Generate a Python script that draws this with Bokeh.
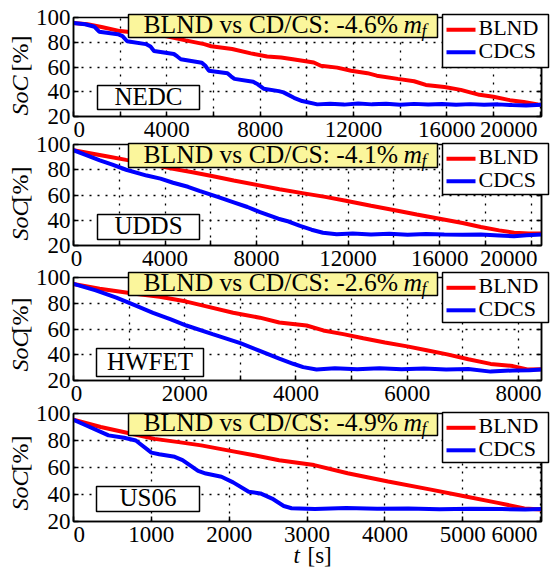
from bokeh.core.properties import value
from bokeh.embed import file_html
from bokeh.layouts import column, row
from bokeh.models import FixedTicker, LinearAxis, Range1d
from bokeh.plotting import figure
from bokeh.resources import INLINE

SERIF = "Liberation Serif"
NBSP = "\u00a0"

# ---- state of charge traces, SoC [%] over time t [s] ----
nedc_blnd_t = [0, 600, 1200, 2000, 2800, 3600, 4000, 4800, 5600, 5900, 6800, 7600, 8300,
               8900, 9400, 10300, 10600, 11300, 11900, 12600, 13000, 13900, 14600, 15100,
               15900, 16600, 17400, 18000, 18700, 19300, 19900, 20060]
nedc_blnd_soc = [95.6, 94.5, 92.3, 89.0, 87.5, 85.8, 84.8, 81.5, 78.5, 76.8, 74.5, 71.0, 68.5,
                 67.6, 66.3, 63.6, 61.0, 59.5, 57.0, 55.0, 53.0, 50.4, 48.5, 45.5,
                 43.8, 41.5, 37.5, 36.0, 33.2, 31.8, 29.8, 29.5]
nedc_cdcs_t = [0, 500, 900, 1100, 1900, 2100, 2300, 3100, 3300, 3450, 4300, 4450, 4600,
               5500, 5650, 5800, 6600, 6750, 6900, 7700, 7900, 8150, 8800, 9000, 9450,
               9800, 10450, 11000, 11600, 12200, 12800, 13400, 14000, 14600, 15200, 15800,
               16400, 17000, 17600, 18200, 18800, 19400, 20060]
nedc_cdcs_soc = [95.5, 94.5, 92.5, 88.5, 86.5, 85.0, 80.8, 78.5, 76.5, 72.9, 70.5, 68.5, 66.3,
                 63.5, 61.0, 57.0, 55.0, 52.5, 50.4, 48.0, 46.0, 42.5, 40.5, 39.5, 35.1,
                 32.5, 29.8, 30.4, 29.6, 30.5, 29.8, 30.3, 29.5, 30.2, 29.6, 30.1,
                 29.4, 30.0, 29.5, 29.8, 29.2, 28.9, 29.5]

udds_blnd_t = [0, 1500, 2300, 3500, 4350, 5200, 6100, 7000, 8000, 9000, 10000, 11000, 11900,
               13000, 14100, 15000, 16000, 17000, 17800, 18600, 19250, 19900, 20450]
udds_blnd_soc = [95.5, 90.5, 87.8, 84.0, 80.7, 78.0, 74.8, 71.5, 68.0, 64.5, 61.5, 58.5, 55.4,
                 51.5, 47.7, 44.5, 41.2, 37.8, 34.7, 32.0, 30.1, 29.5, 29.6]
udds_cdcs_t = [0, 500, 1150, 1700, 2300, 3200, 3800, 4350, 5000, 5500, 6300, 7000, 7600, 8150,
               8950, 9400, 9900, 10400, 10900, 11500, 12200, 13000, 13800, 14600, 15400,
               16200, 17000, 17800, 18600, 19250, 19800, 20450]
udds_cdcs_soc = [95.5, 92.0, 87.5, 84.0, 80.0, 75.4, 73.0, 69.7, 66.5, 63.2, 58.5, 54.2, 50.5,
                 46.4, 41.2, 39.0, 35.5, 32.5, 30.1, 29.0, 29.6, 28.8, 29.3, 28.6, 29.2,
                 28.7, 28.5, 28.8, 28.0, 27.3, 28.2, 28.8]

hwfet_blnd_t = [0, 470, 1070, 1550, 2030, 2390, 2870, 3350, 3700, 4190, 4490, 4850, 5210, 5600,
                6000, 6350, 6720, 7100, 7500, 7900, 8160, 8415]
hwfet_blnd_soc = [95.0, 91.2, 87.5, 85.0, 81.3, 77.6, 72.6, 68.8, 65.1, 62.7, 58.9, 56.0, 52.8,
                  49.5, 46.5, 43.5, 40.3, 36.5, 32.9, 31.2, 28.6, 28.8]
hwfet_cdcs_t = [0, 400, 770, 1100, 1430, 1750, 2030, 2500, 3000, 3350, 3700, 3950, 4130, 4370,
                4700, 5100, 5500, 5900, 6300, 6700, 7100, 7500, 7900, 8200, 8415]
hwfet_cdcs_soc = [95.0, 90.0, 84.3, 78.5, 72.6, 67.5, 62.7, 56.0, 49.0, 43.0, 37.0, 33.0, 30.4,
                  28.6, 29.5, 28.8, 29.6, 28.7, 29.4, 28.5, 29.0, 26.9, 27.8, 28.0, 28.5]

us06_blnd_t = [0, 350, 700, 1040, 1350, 1640, 2000, 2320, 2640, 3090, 3520, 4040, 4590, 5020,
               5450, 5790, 6010]
us06_blnd_soc = [95.4, 90.0, 85.5, 81.2, 78.8, 76.4, 72.5, 69.1, 65.4, 61.8, 55.7, 49.6, 43.6,
                 38.7, 33.8, 29.7, 28.9]
us06_cdcs_t = [0, 150, 450, 650, 800, 1000, 1100, 1300, 1400, 1600, 1700, 1900, 2050, 2250,
               2400, 2550, 2700, 2800, 3100, 3500, 3900, 4300, 4700, 5100, 5500, 5800, 6010]
us06_cdcs_soc = [95.4, 91.5, 83.8, 82.0, 80.0, 71.0, 69.8, 67.9, 65.5, 57.5, 55.5, 53.2, 49.0,
                 42.0, 40.8, 37.0, 31.5, 29.8, 29.3, 30.0, 29.4, 29.7, 29.1, 29.5, 29.2,
                 28.9, 29.2]

cycles = ["NEDC", "UDDS", "HWFET", "US06"]
cycle_end = [20060, 20450, 8415, 6010]
fuel_change = ["-4.6%", "-4.1%", "-2.6%", "-4.9%"]
blnd_series = [(nedc_blnd_t, nedc_blnd_soc), (udds_blnd_t, udds_blnd_soc),
               (hwfet_blnd_t, hwfet_blnd_soc), (us06_blnd_t, us06_blnd_soc)]
cdcs_series = [(nedc_cdcs_t, nedc_cdcs_soc), (udds_cdcs_t, udds_cdcs_soc),
               (hwfet_cdcs_t, hwfet_cdcs_soc), (us06_cdcs_t, us06_cdcs_soc)]
tick_step = [2000, 2000, 1000, 1000]
label_step = [4000, 4000, 2000, 1000]
soc_ticks = [20, 40, 60, 80, 100]
legend_names = ["BLND", "CDCS"]
series_colors = ["#ff0000", "#0000ff"]

# ---- page layout in pixels ----
W, H = 560, 574
LEFT, RIGHT = 73, 541
FRAMES = [(17, 118), (144, 247), (277, 382), (413, 521)]
INFO_BOX = [(14, 37), (143, 167), (272, 295), (413, 435)]
LEGEND_BOX = [(14, 67), (143, 194), (272, 322), (412, 462)]
NAME_BOX = [(97, 199, 85, 109), (97, 199, 214, 239), (96, 203, 348, 376), (96, 199, 486, 511)]
YLABEL_POS = [(115, 71), (240, 202), (371, 333), (510, 471)]
ZERO_PAD = [2, 1, 1, 2]
END_PAD = [4, 4, 0, 4]
# text anchors sit this fraction of the font size above the glyph baseline
BASELINE_SHIFT = 0.38

panels = []
prev_bottom = 0
for i, name in enumerate(cycles):
    top, bot = FRAMES[i]
    tmax = cycle_end[i]
    last = i == len(cycles) - 1
    fig_top = 0 if i == 0 else top - 16
    border_top = top - fig_top
    border_bottom = H - bot if last else 26
    height = border_top + (bot - top) + border_bottom

    p = figure(width=W, height=height, x_range=Range1d(0, tmax), y_range=Range1d(20, 100),
               output_backend="svg", toolbar_location=None,
               min_border_left=LEFT, min_border_right=W - RIGHT,
               min_border_top=border_top, min_border_bottom=border_bottom,
               border_fill_color=None, background_fill_color="white",
               outline_line_color="black", outline_line_width=1.5)
    p.margin = (fig_top - prev_bottom, 0, 0, 0)
    prev_bottom = fig_top + height

    # labelled ticks every label_step, unlabelled ticks in between
    major = list(range(0, tmax + 1, label_step[i]))
    minor = [t for t in range(0, tmax + 1, tick_step[i]) if t % label_step[i]]
    overrides = {0: NBSP * ZERO_PAD[i] + "0"}
    if END_PAD[i]:
        overrides[major[-1]] = str(major[-1]) + NBSP * END_PAD[i]
    xa = p.xaxis[0]
    xa.ticker = FixedTicker(ticks=major, minor_ticks=minor)
    xa.major_label_overrides = overrides
    ya = p.yaxis[0]
    ya.ticker = FixedTicker(ticks=soc_ticks)
    for ax in (xa, ya):
        ax.major_label_text_font = SERIF
        ax.major_label_text_font_size = "23px"
        ax.major_label_text_color = "black"
        ax.major_tick_in = 5
        ax.major_tick_out = 0
        ax.minor_tick_in = 5
        ax.minor_tick_out = 0
        ax.major_tick_line_color = "black"
        ax.minor_tick_line_color = "black"
        ax.major_tick_line_width = 1.5
        ax.minor_tick_line_width = 1.5
        ax.axis_line_color = "black"
        ax.axis_line_width = 1.5
    xa.major_label_standoff = 0
    ya.major_label_standoff = 3

    right_ax = LinearAxis(ticker=FixedTicker(ticks=soc_ticks), major_label_text_font_size="0px",
                          major_label_text_color=None,
                          major_tick_in=5, major_tick_out=0, major_tick_line_width=1.5,
                          minor_tick_line_color=None, axis_line_color="black",
                          axis_line_width=1.5, major_label_standoff=0)
    p.add_layout(right_ax, "right")

    for g in (p.xgrid[0], p.ygrid[0]):
        g.grid_line_color = "black"
        g.grid_line_dash = "2 6"
        g.grid_line_width = 1.3
    p.xgrid[0].minor_grid_line_color = "black"
    p.xgrid[0].minor_grid_line_dash = "2 6"
    p.xgrid[0].minor_grid_line_width = 1.3

    p.line(*blnd_series[i], line_color=series_colors[0], line_width=4)
    p.line(*cdcs_series[i], line_color=series_colors[1], line_width=4)
    panels.append(p)

# ---- transparent sheet on top: boxes, legends and axis titles in page pixels ----
ov = figure(width=W, height=H, x_range=Range1d(0, W), y_range=Range1d(H, 0),
            output_backend="svg", toolbar_location=None,
            x_axis_location=None, y_axis_location=None, min_border=0,
            min_border_left=0, min_border_right=0, min_border_top=0, min_border_bottom=0,
            border_fill_color=None, background_fill_color=None, outline_line_color=None)
ov.grid.grid_line_color = None
ov.margin = (0, 0, 0, -W)


def put_text(x, y, text, size, style="normal", align="left", vertical=False):
    """Place text with its baseline at page pixel (x, y)."""
    shift = BASELINE_SHIFT * size
    if vertical:
        x, angle = x - shift, 1.5708
    else:
        y, angle = y - shift, 0.0
    ov.text(x=[x], y=[y], text=[text], text_font=value(SERIF), text_font_size=value(f"{size}px"),
            text_font_style=style, text_align=align, text_baseline="alphabetic",
            angle=angle, text_color="black")


n = len(cycles)
ov.quad(left=[128] * n, right=[437] * n, top=[b[0] for b in INFO_BOX],
        bottom=[b[1] for b in INFO_BOX], fill_color="#fbf69c", line_color="black",
        line_width=1.5)
ov.quad(left=[b[0] for b in NAME_BOX], right=[b[1] for b in NAME_BOX],
        top=[b[2] for b in NAME_BOX], bottom=[b[3] for b in NAME_BOX],
        fill_color="white", line_color="black", line_width=1.5)
ov.quad(left=[442] * n, right=[548] * n, top=[b[0] for b in LEGEND_BOX],
        bottom=[b[1] for b in LEGEND_BOX], fill_color="white", line_color="black",
        line_width=1.5)

for i, name in enumerate(cycles):
    # fuel-consumption comparison
    base = INFO_BOX[i][1] - 3.5
    put_text(143, base, f"BLND vs CD/CS: {fuel_change[i]}", 25.6)
    put_text(403, base, "m", 25.6, style="italic")
    put_text(421, base + 4, "f", 18, style="italic")

    # drive-cycle name
    bx0, bx1, by0, by1 = NAME_BOX[i]
    put_text((bx0 + bx1) / 2, (by0 + by1) / 2 + 8.3, name, 25, align="center")

    # legend entries
    lt = LEGEND_BOX[i][0]
    for k, (lab, col) in enumerate(zip(legend_names, series_colors)):
        ly = lt + 15.3 + 22.5 * k
        ov.line(x=[446, 475], y=[ly, ly], line_color=col, line_width=4)
        put_text(478, ly + 6.5, lab, 22)

    # y axis title
    s0, s1 = YLABEL_POS[i]
    put_text(29, s0, "SoC", 24, style="italic", vertical=True)
    put_text(29, s1, "[%]", 24, vertical=True)

# x axis title
put_text(293, 564, "t", 23, style="italic")
put_text(307, 564, "[s]", 23)

layout = row(column(*panels, spacing=0), ov, spacing=0)
open("out.html", "w").write(file_html(layout, INLINE))
